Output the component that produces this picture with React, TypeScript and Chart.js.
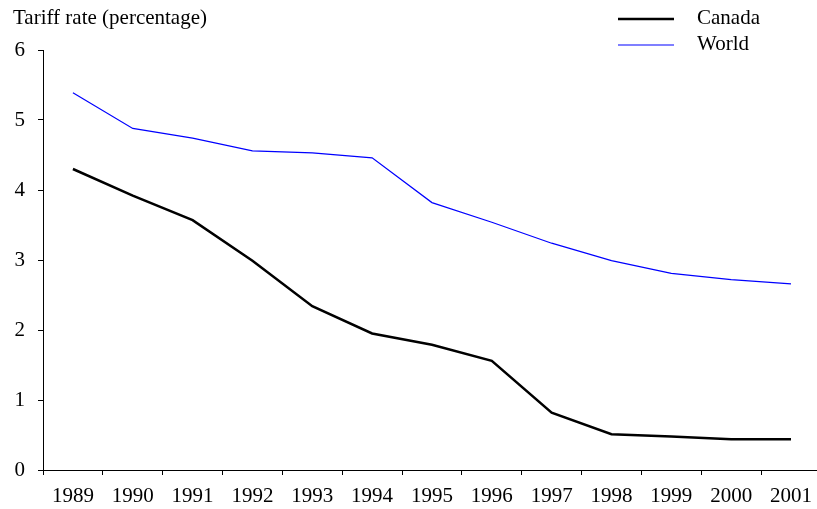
import React, { useEffect, useRef } from "react";
import { Chart, registerables } from "chart.js";

Chart.register(...registerables);

const years = ["1989", "1990", "1991", "1992", "1993", "1994", "1995", "1996", "1997", "1998", "1999", "2000", "2001"];
const canada = [4.3, 3.92, 3.57, 2.99, 2.34, 1.95, 1.79, 1.56, 0.82, 0.51, 0.48, 0.44, 0.44];
const world = [5.39, 4.88, 4.74, 4.56, 4.53, 4.46, 3.82, 3.54, 3.24, 2.99, 2.81, 2.72, 2.66];
const seriesNames = ["Canada", "World"];
const seriesColors = ["#000000", "#0000ff"];
const seriesWidths = [2.5, 1.2];
const yTitle = "Tariff rate (percentage)";
const yMin = 0;
const yMax = 6;
const yStep = 1;

const FONT_FAMILY = '"Liberation Serif", "Times New Roman", serif';
const FONT_SIZE = 21;

const overlayPlugin = {
  id: "overlayText",
  afterDraw(chart: any) {
    const ctx = chart.ctx as CanvasRenderingContext2D;
    ctx.save();
    ctx.font = `${FONT_SIZE}px ${FONT_FAMILY}`;
    ctx.fillStyle = "#000";
    ctx.textAlign = "left";
    ctx.textBaseline = "alphabetic";
    ctx.fillText(yTitle, 13, 23.5);
    const legendYs = [19, 45];
    const textYs = [23.5, 49.5];
    seriesNames.forEach((name, i) => {
      ctx.beginPath();
      ctx.strokeStyle = seriesColors[i];
      ctx.lineWidth = seriesWidths[i];
      ctx.moveTo(618, legendYs[i]);
      ctx.lineTo(674, legendYs[i]);
      ctx.stroke();
      ctx.fillStyle = "#000";
      ctx.fillText(name, 697, textYs[i]);
    });
    ctx.restore();
  },
};

export default function App() {
  const ref = useRef<HTMLCanvasElement | null>(null);

  useEffect(() => {
    if (!ref.current) return;
    const chart = new Chart(ref.current, {
      type: "line",
      data: {
        labels: years,
        datasets: [
          {
            label: seriesNames[0],
            data: canada,
            borderColor: seriesColors[0],
            borderWidth: seriesWidths[0],
            pointRadius: 0,
            tension: 0,
            fill: false,
          },
          {
            label: seriesNames[1],
            data: world,
            borderColor: seriesColors[1],
            borderWidth: seriesWidths[1],
            pointRadius: 0,
            tension: 0,
            fill: false,
          },
        ],
      },
      options: {
        responsive: false,
        animation: false,
        layout: { padding: { top: 50, left: 0, right: 0, bottom: 0 } },
        plugins: {
          legend: { display: false },
          tooltip: { enabled: false },
          title: { display: false },
        },
        scales: {
          x: {
            type: "category",
            offset: true,
            grid: {
              offset: true,
              drawOnChartArea: false,
              drawTicks: true,
              tickLength: 5,
              color: "#000",
            },
            border: { display: true, color: "#000", width: 1 },
            ticks: {
              color: "#000",
              font: { family: FONT_FAMILY, size: FONT_SIZE },
              padding: 9,
              maxRotation: 0,
              autoSkip: false,
            },
            afterFit: (s: any) => {
              s.height = 39;
            },
          },
          y: {
            min: yMin,
            max: yMax,
            grid: {
              drawOnChartArea: false,
              drawTicks: true,
              tickLength: 5,
              color: "#000",
            },
            border: { display: true, color: "#000", width: 1 },
            ticks: {
              stepSize: yStep,
              color: "#000",
              font: { family: FONT_FAMILY, size: FONT_SIZE },
              padding: 13,
            },
            afterFit: (s: any) => {
              s.width = 43;
            },
          },
        },
      },
      plugins: [overlayPlugin],
    });
    return () => chart.destroy();
  }, []);

  return (
    <div style={{ position: "absolute", left: 0, top: 0, width: 817, height: 509, overflow: "hidden", background: "#fff" }}>
      <canvas ref={ref} width={821} height={509} style={{ display: "block" }} />
    </div>
  );
}
